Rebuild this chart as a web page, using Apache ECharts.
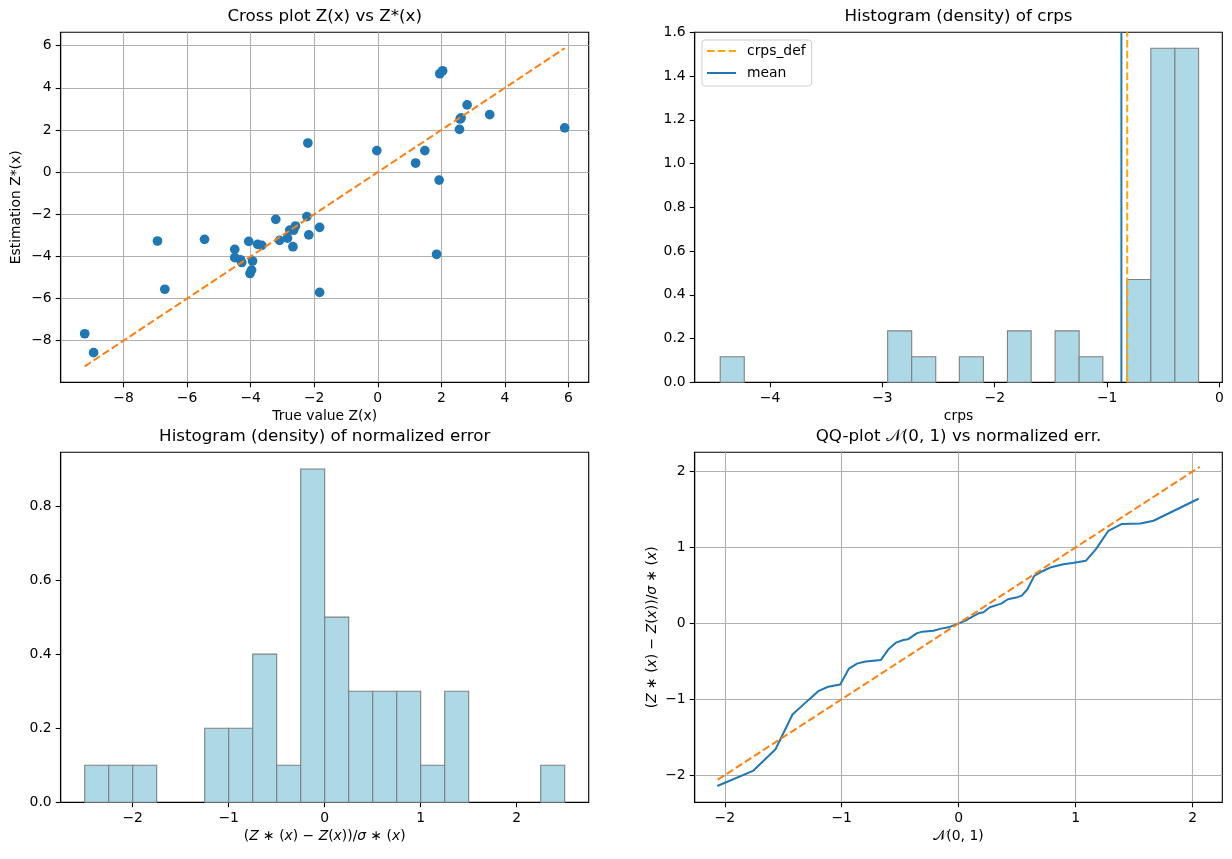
<!DOCTYPE html>
<html>
<head>
<meta charset="utf-8">
<script src="https://cdn.jsdelivr.net/npm/echarts@6/dist/echarts.min.js"></script>
<style>
    html, body { margin: 0; padding: 0; background: #fff; }
    #main { width: 1232px; height: 859px; }
</style>
</head>
<body>
<div id="main"></div>
<script>
// cross plot: true value vs estimation
const trueVals = [-9.22, -8.94, -6.93, -6.70, -5.45, -4.50, -4.50, -4.32, -4.28, -4.06,
    -4.02, -3.97, -3.94, -3.78, -3.65, -3.21, -3.09, -2.84, -2.77, -2.67,
    -2.65, -2.59, -2.23, -2.20, -2.17, -1.83, -1.83, -0.03, 1.19, 1.48,
    1.85, 1.93, 1.95, 2.04, 2.59, 2.62, 2.57, 2.81, 3.52, 5.88];
const estVals = [-7.67, -8.57, -3.27, -5.56, -3.19, -3.67, -4.06, -4.16, -4.29, -3.29,
    -4.81, -4.65, -4.22, -3.43, -3.48, -2.24, -3.24, -3.13, -2.75, -3.54,
    -2.76, -2.56, -2.11, 1.38, -2.98, -2.62, -5.71, 1.02, 0.43, 1.02,
    -3.90, -0.38, 4.67, 4.81, 2.52, 2.57, 2.03, 3.19, 2.73, 2.10];

// crps histogram (density)
const crpsEdges = [-4.443, -4.229, -4.016, -3.803, -3.590, -3.377, -3.165, -2.953, -2.739, -2.525,
    -2.315, -2.101, -1.887, -1.676, -1.463, -1.249, -1.038, -0.824, -0.611, -0.397, -0.186];
const crpsDens = [0.117, 0, 0, 0, 0, 0, 0, 0.235, 0.117, 0,
    0.117, 0, 0.235, 0, 0.235, 0.117, 0, 0.47, 1.527, 1.527];
const crpsMean = -0.873;
const crpsDef = -0.821;

// normalized error histogram (density)
const errEdges = [-2.5, -2.25, -2.0, -1.75, -1.5, -1.25, -1.0, -0.75, -0.5, -0.25,
    0, 0.25, 0.5, 0.75, 1.0, 1.25, 1.5, 1.75, 2.0, 2.25, 2.5];
const errDens = [0.1, 0.1, 0.1, 0, 0, 0.2, 0.2, 0.4, 0.1, 0.9,
    0.5, 0.3, 0.3, 0.3, 0.1, 0.3, 0, 0, 0, 0.1];

// QQ plot
const qqTheo = [-2.064, -1.759, -1.566, -1.421, -1.286, -1.196, -1.116, -1.013, -0.939, -0.865,
    -0.794, -0.666, -0.601, -0.537, -0.473, -0.434, -0.360, -0.312, -0.215, -0.151,
    -0.087, 0, 0.058, 0.106, 0.170, 0.212, 0.267, 0.363, 0.421, 0.492,
    0.540, 0.588, 0.646, 0.717, 0.781, 0.894, 0.974, 1.087, 1.174, 1.280,
    1.392, 1.553, 1.666, 2.051];
const qqErr = [-2.143, -1.945, -1.659, -1.201, -1.012, -0.889, -0.836, -0.805, -0.598, -0.528,
    -0.502, -0.484, -0.343, -0.255, -0.220, -0.211, -0.132, -0.110, -0.097, -0.070,
    -0.053, 0, 0.035, 0.079, 0.132, 0.145, 0.211, 0.260, 0.317, 0.339,
    0.365, 0.449, 0.625, 0.686, 0.735, 0.779, 0.796, 0.823, 0.977, 1.219,
    1.307, 1.315, 1.351, 1.641];
const qqRef = [-2.06, 2.06];

// tick labels
const crossTicks = [-8, -6, -4, -2, 0, 2, 4, 6];
const crpsXTicks = [-4, -3, -2, -1, 0];
const crpsYTicks = [0, 0.2, 0.4, 0.6, 0.8, 1.0, 1.2, 1.4, 1.6];
const errXTicks = [-2, -1, 0, 1, 2];
const errYTicks = [0, 0.2, 0.4, 0.6, 0.8];
const qqTicks = [-2, -1, 0, 1, 2];

const FONT = 'DejaVu Sans';
const BLUE = '#1f77b4';
const ORANGE = '#ff7f0e';

function minus(v) {
    return String(v).replace('-', '\u2212');
}
function oneDec(v) {
    return v.toFixed(1);
}

function makeAxis(idx, min, max, ticks, fmt, extra) {
    let ax = {
        type: 'value',
        gridIndex: idx,
        min: min,
        max: max,
        axisLine: { show: true, onZero: false, lineStyle: { color: '#000', width: 1.1 } },
        axisTick: { show: true, customValues: ticks, length: 5, lineStyle: { color: '#000', width: 1.1 } },
        axisLabel: {
            customValues: ticks, formatter: fmt, color: '#000',
            fontFamily: FONT, fontSize: 13.9, margin: 9
        },
        splitLine: { show: false, lineStyle: { color: '#b0b0b0', width: 1.1 } },
        nameLocation: 'middle',
        nameTextStyle: { color: '#000', fontFamily: FONT, fontSize: 13.9 }
    };
    return Object.assign(ax, extra || {});
}

function histItem(params, api) {
    const h = api.value(2);
    if (!h) return null;
    const p0 = api.coord([api.value(0), h]);
    const p1 = api.coord([api.value(1), 0]);
    return {
        type: 'rect',
        shape: { x: p0[0], y: p0[1], width: p1[0] - p0[0], height: p1[1] - p0[1] },
        style: { fill: '#add8e6', stroke: '#808080', lineWidth: 1.1 }
    };
}

function histData(edges, dens) {
    let arr = [];
    for (let i = 0; i < dens.length; i++) {
        arr.push([edges[i], edges[i + 1], dens[i]]);
    }
    return arr;
}

const errName = '({i|Z} \u2217 ({i|x}) \u2212 {i|Z}({i|x}))/{i|\u03c3} \u2217 ({i|x})';
const italic = { i: { fontStyle: 'italic', fontFamily: FONT, fontSize: 13.9, color: '#000' } };

const titleStyle = { fontSize: 16.7, fontWeight: 'normal', color: '#000', fontFamily: FONT };

const crossLo = Math.min(...trueVals);
const crossHi = Math.max(...trueVals);

let option = {
    animation: false,
    backgroundColor: '#fff',
    title: [
        { text: 'Cross plot Z(x) vs Z*(x)', left: 324.7, top: 8, textAlign: 'center', padding: 0, textStyle: titleStyle },
        { text: 'Histogram (density) of crps', left: 958.5, top: 8, textAlign: 'center', padding: 0, textStyle: titleStyle },
        { text: 'Histogram (density) of normalized error', left: 324.7, top: 428, textAlign: 'center', padding: 0, textStyle: titleStyle },
        { text: 'QQ-plot \ud835\udca9(0, 1) vs normalized err.', left: 958.5, top: 428, textAlign: 'center', padding: 0, textStyle: titleStyle }
    ],
    legend: {
        data: ['crps_def', 'mean'],
        orient: 'vertical',
        left: 702,
        top: 40,
        padding: [4, 6, 6, 4],
        itemWidth: 29,
        itemHeight: 14,
        itemGap: 8,
        itemStyle: { opacity: 0 },
        backgroundColor: 'rgba(255,255,255,0.8)',
        borderColor: '#cccccc',
        borderWidth: 1,
        borderRadius: 3,
        textStyle: { color: '#000', fontFamily: FONT, fontSize: 13.9, padding: [0, 0, 0, 6] }
    },
    grid: [
        { left: 60.7, top: 32.3, width: 528, height: 350, show: true, borderColor: '#000', borderWidth: 1.1 },
        { left: 694.7, top: 32.3, width: 527.6, height: 350, show: true, borderColor: '#000', borderWidth: 1.1 },
        { left: 60.7, top: 452.3, width: 528, height: 350, show: true, borderColor: '#000', borderWidth: 1.1 },
        { left: 694.7, top: 452.3, width: 527.6, height: 350, show: true, borderColor: '#000', borderWidth: 1.1 }
    ],
    xAxis: [
        makeAxis(0, -9.975, 6.635, crossTicks, minus, {
            splitNumber: 8, minInterval: 2, maxInterval: 2,
            name: 'True value Z(x)', nameGap: 27
        }),
        makeAxis(1, -4.67, 0.025, crpsXTicks, minus, { name: 'crps', nameGap: 27 }),
        makeAxis(2, -2.75, 2.75, errXTicks, minus, {
            name: errName, nameGap: 27
        }),
        makeAxis(3, -2.257, 2.254, qqTicks, minus, {
            minInterval: 1, maxInterval: 1,
            name: '\ud835\udca9(0, 1)', nameGap: 27
        })
    ],
    yAxis: [
        makeAxis(0, -9.975, 6.635, crossTicks, minus, {
            splitNumber: 8, minInterval: 2, maxInterval: 2,
            name: 'Estimation Z*(x)', nameGap: 37
        }),
        makeAxis(1, 0, 1.6, crpsYTicks, oneDec, { splitNumber: 8 }),
        makeAxis(2, 0, 0.945, errYTicks, oneDec, {}),
        makeAxis(3, -2.358, 2.253, qqTicks, minus, {
            minInterval: 1, maxInterval: 1,
            name: errName, nameGap: 35
        })
    ],
    series: [
        {
            type: 'scatter',
            xAxisIndex: 0, yAxisIndex: 0,
            symbolSize: 9.7,
            itemStyle: { color: BLUE, opacity: 1 },
            data: trueVals.map((v, i) => [v, estVals[i]]),
            z: 3
        },
        {
            type: 'line',
            xAxisIndex: 0, yAxisIndex: 0,
            symbol: 'none',
            lineStyle: { color: ORANGE, width: 2, type: [7.5, 3.3] },
            data: [[crossLo, crossLo], [crossHi, crossHi]],
            z: 4
        },
        {
            type: 'custom',
            xAxisIndex: 1, yAxisIndex: 1,
            renderItem: histItem,
            encode: { x: [0, 1], y: 2 },
            data: histData(crpsEdges, crpsDens),
            z: 2
        },
        {
            name: 'crps_def',
            type: 'line',
            xAxisIndex: 1, yAxisIndex: 1,
            symbol: 'none',
            color: '#ffa500',
            lineStyle: { color: '#ffa500', width: 2, type: [7.5, 3.3] },
            data: [[crpsDef, 0], [crpsDef, 1.6]],
            z: 4
        },
        {
            name: 'mean',
            type: 'line',
            xAxisIndex: 1, yAxisIndex: 1,
            symbol: 'none',
            color: BLUE,
            lineStyle: { color: BLUE, width: 2 },
            data: [[crpsMean, 0], [crpsMean, 1.6]],
            z: 4
        },
        {
            type: 'custom',
            xAxisIndex: 2, yAxisIndex: 2,
            renderItem: histItem,
            encode: { x: [0, 1], y: 2 },
            data: histData(errEdges, errDens),
            z: 2
        },
        {
            type: 'line',
            xAxisIndex: 3, yAxisIndex: 3,
            symbol: 'none',
            lineStyle: { color: BLUE, width: 2 },
            data: qqTheo.map((v, i) => [v, qqErr[i]]),
            z: 3
        },
        {
            type: 'line',
            xAxisIndex: 3, yAxisIndex: 3,
            symbol: 'none',
            lineStyle: { color: ORANGE, width: 2, type: [7.5, 3.3] },
            data: [[qqRef[0], qqRef[0]], [qqRef[1], qqRef[1]]],
            z: 4
        }
    ]
};

// grid lines only on the cross plot and the QQ plot
option.xAxis[0].splitLine.show = true;
option.yAxis[0].splitLine.show = true;
option.xAxis[3].splitLine.show = true;
option.yAxis[3].splitLine.show = true;
option.xAxis[2].nameTextStyle.rich = italic;
option.yAxis[3].nameTextStyle.rich = italic;

let myChart = echarts.init(document.getElementById('main'));
myChart.setOption(option);
</script>
</body>
</html>
